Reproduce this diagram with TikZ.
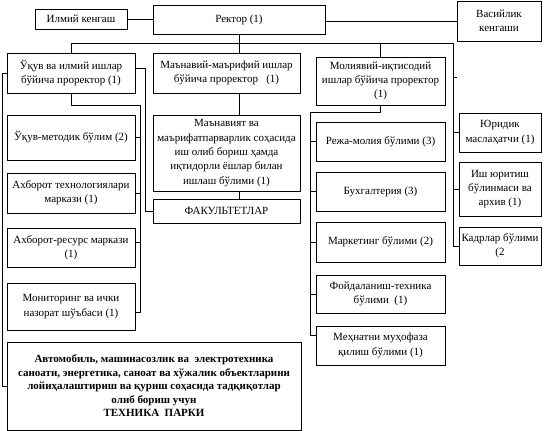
\documentclass[tikz,border=0pt]{standalone}
\usepackage{fontspec}
\setmainfont{Liberation Serif}
\begin{document}
\begin{tikzpicture}[x=1pt,y=-1pt,
  box/.style={draw,line width=0.9pt,align=center,inner sep=1pt,
    font=\fontsize{11}{14.3}\selectfont},
  boldbox/.style={box,font=\bfseries\fontsize{11}{13.5}\selectfont},
  wire/.style={line width=0.9pt}]
\useasboundingbox (0,0) rectangle (544,431);
% top row
\node[box,minimum width=92,minimum height=20] (ilm) at (81,19) {Илмий кенгаш};
\node[box,minimum width=172,minimum height=29] (rektor) at (239,19.5) {Ректор (1)};
\node[box,minimum width=84,minimum height=40] (vasiy) at (499,21) {Васийлик\\кенгаши};
% second row
\node[box,minimum width=128,minimum height=40] (uquv) at (71,73) {Ўқув ва илмий ишлар\\бўйича проректор (1)};
\node[box,minimum width=147,minimum height=40] (manav) at (226.5,73) {Маънавий-маърифий ишлар\\бўйича проректор \ \ (1)};
\node[box,minimum width=129,minimum height=48] (mol) at (380.5,81) {Молиявий-иқтисодий\\ишлар бўйича проректор\\(1)};
% left column
\node[box,minimum width=128,minimum height=45] (uqmet) at (71,137.5) {Ўқув-методик бўлим (2)};
\node[box,minimum width=128,minimum height=40] (axtex) at (71,193) {Ахборот технологиялари\\маркази (1)};
\node[box,minimum width=128,minimum height=39] (axres) at (71,247.5) {Ахборот-ресурс маркази\\(1)};
\node[box,minimum width=128,minimum height=47] (monit) at (71,306.5) {Мониторинг ва ички\\назорат шўъбаси (1)};
\node[boldbox,minimum width=294,minimum height=88] (tex) at (154,386) {Автомобиль, машинасозлик ва \ электротехника\\саноати, энергетика, саноат ва хўжалик объектларини\\лойиҳалаштириш ва қуриш соҳасида тадқиқотлар\\олиб бориш учун\\ТЕХНИКА \ ПАРКИ};
% middle column
\node[box,minimum width=147,minimum height=76] (manbox) at (226.5,153) {Маънавият ва\\маърифатпарварлик соҳасида\\иш олиб бориш ҳамда\\иқтидорли ёшлар билан\\ишлаш бўлими (1)};
\node[box,minimum width=147,minimum height=24] (fak) at (226.5,211) {ФАКУЛЬТЕТЛАР};
% finance column
\node[box,minimum width=129,minimum height=39] (reja) at (380.5,141.5) {Режа-молия бўлими (3)};
\node[box,minimum width=129,minimum height=39] (bux) at (380.5,191.5) {Бухгалтерия (3)};
\node[box,minimum width=129,minimum height=40] (mark) at (380.5,242) {Маркетинг бўлими (2)};
\node[box,minimum width=129,minimum height=38] (foyd) at (380.5,294) {Фойдаланиш-техника\\бўлими \ (1)};
\node[box,minimum width=129,minimum height=39] (mehn) at (380.5,345.5) {Меҳнатни муҳофаза\\қилиш бўлими (1)};
% right column
\node[box,minimum width=82,minimum height=39] (yur) at (500,132.5) {Юридик\\маслаҳатчи (1)};
\node[box,minimum width=82,minimum height=54] (ish) at (500,189) {Иш юритиш\\бўлинмаси ва\\архив (1)};
\node[box,minimum width=82,minimum height=38] (kadr) at (500,246) {Кадрлар бўлими\\(2};
% coordinates
\coordinate (b1) at (453,43);
\coordinate (u1) at (140,105);
\coordinate (u2) at (145,68);
\coordinate (L1) at (2,73);
\coordinate (m1) at (310,112);
\coordinate (tick) at (457,77);
% connectors
\draw[wire] (ilm.east) -- (ilm.east -| rektor.west);
\draw[wire] (rektor.east |- vasiy.west) -- (vasiy.west);
\draw[wire] (rektor.south) -- (rektor.south |- manav.north);
\draw[wire] (uquv.north) |- (b1) |- (kadr.west);
\draw[wire] (mol.north) -- (mol.north |- b1);
\draw[wire] (tick -| b1) -- (tick);
\draw[wire] (yur.west) -- (yur.west -| b1);
\draw[wire] (ish.west) -- (ish.west -| b1);
\draw[wire] (rektor.south |- manav.south) -- (rektor.south |- manbox.north);
\draw[wire] (rektor.south |- manbox.south) -- (rektor.south |- fak.north);
\draw[wire] (uquv.east |- u2) -- (u2) |- (fak.west);
\draw[wire] (uquv.south) |- (u1) |- ([yshift=-6pt]monit.east);
\draw[wire] (uqmet.east) -- (uqmet.east -| u1);
\draw[wire] (axtex.east) -- (axtex.east -| u1);
\draw[wire] ([yshift=5pt]axres.east) -- ([yshift=5pt]axres.east -| u1);
\draw[wire] (uquv.west) -- (L1) |- (tex.west);
\draw[wire] (mol.south) |- (m1) |- ([yshift=10pt]mehn.west);
\draw[wire] (reja.west) -- (reja.west -| m1);
\draw[wire] (bux.west) -- (bux.west -| m1);
\draw[wire] (mark.west) -- (mark.west -| m1);
\draw[wire] (foyd.west) -- (foyd.west -| m1);
\end{tikzpicture}
\end{document}
